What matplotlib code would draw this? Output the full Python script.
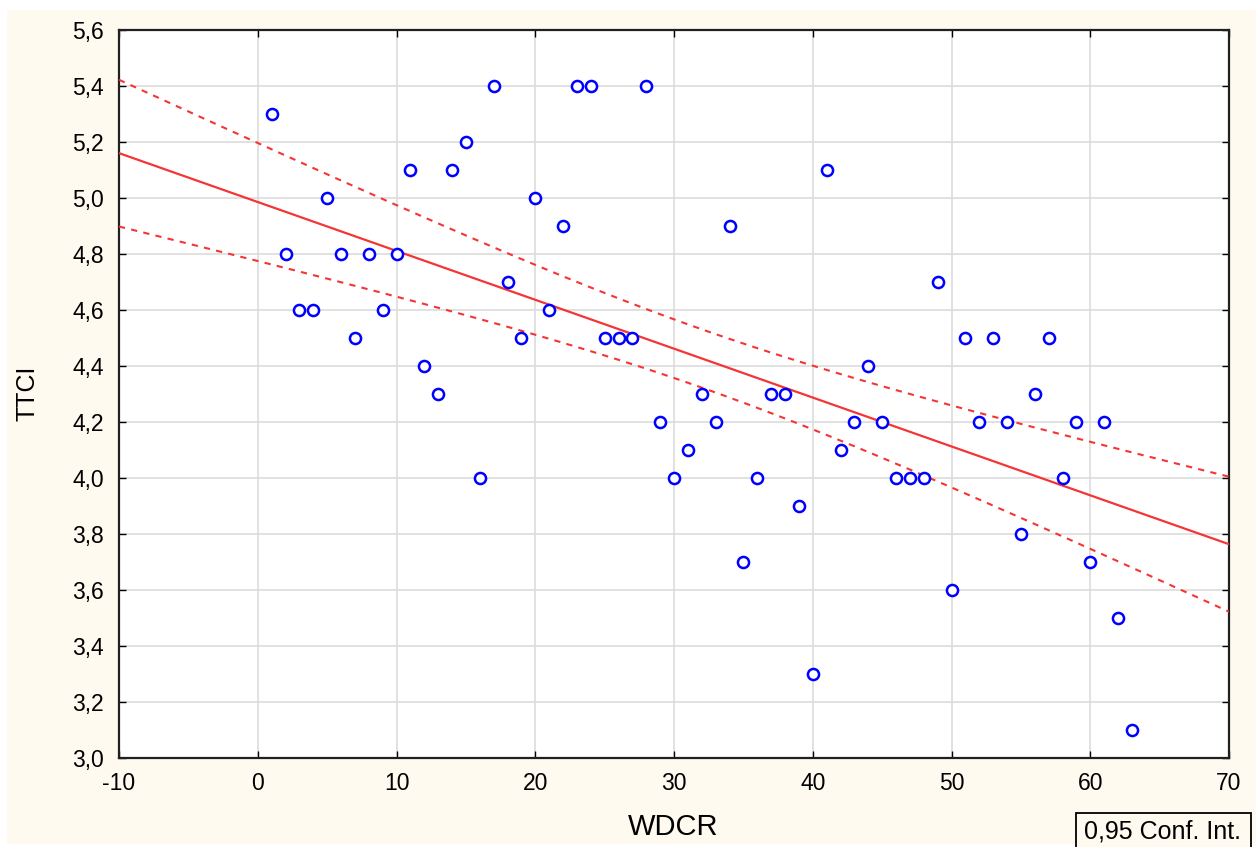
import numpy as np
import matplotlib
matplotlib.use("Agg")
import matplotlib.pyplot as plt
from matplotlib.ticker import FuncFormatter
from matplotlib.patches import Rectangle

plt.rcParams['font.family'] = ['Liberation Sans', 'DejaVu Sans']
plt.rcParams['axes.unicode_minus'] = False

# WDCR vs TTCI observations
wdcr = np.arange(1, 64)
ttci = np.array([
    5.3, 4.8, 4.6, 4.6, 5.0, 4.8, 4.5, 4.8, 4.6, 4.8,
    5.1, 4.4, 4.3, 5.1, 5.2, 4.0, 5.4, 4.7, 4.5, 5.0,
    4.6, 4.9, 5.4, 5.4, 4.5, 4.5, 4.5, 5.4, 4.2, 4.0,
    4.1, 4.3, 4.2, 4.9, 3.7, 4.0, 4.3, 4.3, 3.9, 3.3,
    5.1, 4.1, 4.2, 4.4, 4.2, 4.0, 4.0, 4.0, 4.7, 3.6,
    4.5, 4.2, 4.5, 4.2, 3.8, 4.3, 4.5, 4.0, 4.2, 3.7,
    4.2, 3.5, 3.1,
])
x_ticks = np.arange(-10, 71, 10)
y_ticks = np.arange(3.0, 5.61, 0.2)
T_975 = 1.9996  # t quantile, df = n - 2 = 61

# least squares fit and 95% confidence band for the mean
n = len(wdcr)
xm = wdcr.mean()
sxx = ((wdcr - xm) ** 2).sum()
b1 = ((wdcr - xm) * (ttci - ttci.mean())).sum() / sxx
b0 = ttci.mean() - b1 * xm
resid = ttci - (b0 + b1 * wdcr)
s = np.sqrt((resid ** 2).sum() / (n - 2))

xs = np.linspace(-10, 70, 200)
fit = b0 + b1 * xs
half = T_975 * s * np.sqrt(1.0 / n + (xs - xm) ** 2 / sxx)

W, H = 1256, 847
fig = plt.figure(figsize=(W / 100, H / 100), dpi=100, facecolor='white')
fig.patches.append(Rectangle((7 / W, 3 / H), 1 - 7 / W, 1 - 13 / H,
                             transform=fig.transFigure, facecolor='#FFFAF0',
                             edgecolor='none', zorder=-10))
ax = fig.add_axes([119 / W, 1 - 758 / H, 1110 / W, 728 / H])
ax.set_facecolor('white')

red = '#F53535'
ax.plot(xs, fit, color=red, lw=1.6, zorder=3)
ax.plot(xs, fit + half, color=red, lw=1.5, ls=(0, (3, 3)), zorder=3)
ax.plot(xs, fit - half, color=red, lw=1.5, ls=(0, (3, 3)), zorder=3)
ax.plot(wdcr, ttci, 'o', ms=8, mfc='white', mec='#0000FF', mew=1.8, zorder=4)

ax.set_xlim(-10, 70)
ax.set_ylim(3.0, 5.6)
ax.set_xticks(x_ticks)
ax.set_yticks(y_ticks)
ax.yaxis.set_major_formatter(FuncFormatter(lambda v, p: f"{v:.1f}".replace('.', ',')))
ax.grid(True, color='#DCDCDC', lw=1.2)
ax.set_axisbelow(True)
ax.tick_params(direction='in', length=5, width=1, top=True, right=True,
               labelsize=16.5, colors='black')
ax.tick_params(axis='y', pad=11)
ax.tick_params(axis='x', pad=10)
for sp in ax.spines.values():
    sp.set_linewidth(1.6)
    sp.set_color('#202020')

ax.set_xlabel('WDCR', fontsize=21)
ax.set_ylabel('TTCI', fontsize=18)
ax.xaxis.set_label_coords((673 - 119) / 1110, (758 - 827) / 728)
ax.xaxis.label.set_va('center')
ax.yaxis.set_label_coords((27 - 119) / 1110, (758 - 393) / 728)
ax.yaxis.label.set_va('center')

# legend box in the lower right corner
fig.patches.append(Rectangle((1076 / W, -0.01), 175 / W, 0.01 + 1 - 813 / H,
                             transform=fig.transFigure, facecolor='#FFFAF0',
                             edgecolor='black', lw=1.3))
fig.text(1084 / W, 1 - 831 / H, '0,95 Conf. Int.', ha='left', va='center', fontsize=18)

fig.savefig('out.png', dpi=100, facecolor=fig.get_facecolor())
